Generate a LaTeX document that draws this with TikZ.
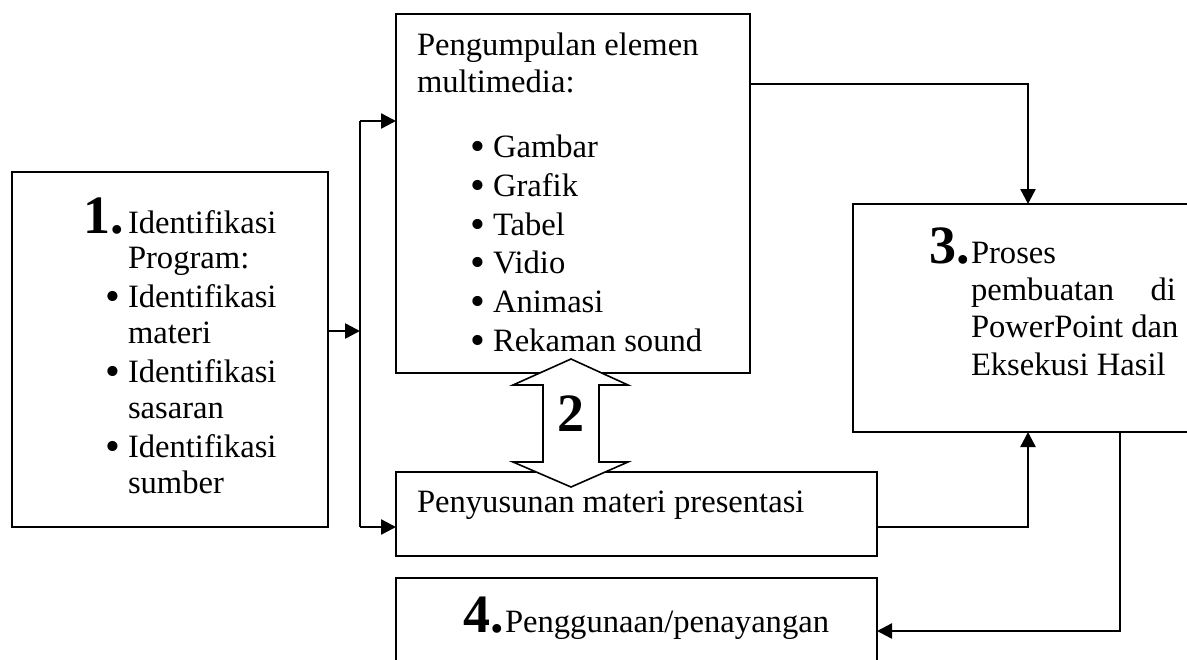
\documentclass[tikz,border=0pt]{standalone}
\usepackage{fontspec}
\usepackage{graphicx}
\setmainfont{Liberation Serif}
\usetikzlibrary{arrows.meta}
\newcommand{\bodyfont}{\fontsize{16.3pt}{18.75pt}\selectfont}
\newcommand{\numfont}{\fontsize{27pt}{27pt}\selectfont\bfseries}
\newcommand{\bul}{\llap{\raisebox{-1.6pt}{\scalebox{1.3}{\textbullet}}\hspace{4pt}}}
\begin{document}
\begin{tikzpicture}[x=0.5pt,y=-0.5pt,
  box/.style={draw, line width=1pt, inner sep=0pt, outer sep=0pt, anchor=north west},
  txt/.style={inner sep=0pt, outer sep=0pt, anchor=base west, font=\bodyfont},
  num/.style={inner sep=0pt, outer sep=0pt, anchor=base east, font=\numfont},
  conn/.style={line width=1.25pt},
  arr/.style={conn, -{Triangle[length=7.5pt,width=7.5pt]}},
  dbl/.style={draw, line width=0.8pt, fill=white, line join=miter}]
\useasboundingbox (0,0) rectangle (1187,659);

% boxes
\node[box, minimum width=158pt, minimum height=177.5pt] (b1) at (12,172) {};
\node[box, minimum width=177pt, minimum height=179.5pt] (bA) at (396,14) {};
\node[box, minimum width=240.5pt, minimum height=42pt] (bB) at (396,472) {};
\node[box, minimum width=240.5pt, minimum height=50pt] (b4) at (396,578) {};
\node[box, minimum width=180pt, minimum height=114pt] (b3) at (853,204) {};

% box 1 text
\node[num] (n1) at (124,233) {1.};
\node[txt] (t1a) at (128,233) {Identifikasi};
\node[txt] (t1b) at (128,268) {Program:};
\node[txt] (t1c) at (128,307) {\bul Identifikasi};
\node[txt] (t1d) at (128,343) {materi};
\node[txt] (t1e) at (128,382) {\bul Identifikasi};
\node[txt] (t1f) at (128,418) {sasaran};
\node[txt] (t1g) at (128,457) {\bul Identifikasi};
\node[txt] (t1h) at (128,493) {sumber};

% box A text
\node[txt] (tAa) at (417,55) {Pengumpulan elemen};
\node[txt] (tAb) at (417,92) {multimedia:};
\node[txt] (tAc) at (493,157) {\bul Gambar};
\node[txt] (tAd) at (493,196) {\bul Grafik};
\node[txt] (tAe) at (493,235) {\bul Tabel};
\node[txt] (tAf) at (493,273) {\bul Vidio};
\node[txt] (tAg) at (493,312) {\bul Animasi};
\node[txt] (tAh) at (493,351) {\bul Rekaman sound};

% box 3 text
\node[num] (n3) at (970,263) {3.};
\node[txt] (t3a) at (971,263) {Proses};
\node[txt] (t3b) at (971,300) {pembuatan};
\node[txt, anchor=base east] (t3c) at (1176,300) {di};
\node[txt] (t3d) at (971,337) {PowerPoint dan};
\node[txt] (t3e) at (971,375) {Eksekusi Hasil};

% box B text
\node[txt] (tB) at (417,512) {Penyusunan materi presentasi};

% box 4 text
\node[num] (n4) at (504,632) {4.};
\node[txt] (t4) at (505,632) {Penggunaan/penayangan};

% double arrow 2
\draw[dbl] (571,359) -- (628,385) -- (599,385) -- (599,462) -- (628,462)
  -- (571,487) -- (513,462) -- (543,462) -- (543,385) -- (513,385) -- cycle;
\node[inner sep=0pt, anchor=base, font=\numfont] (two) at (571,431) {2};

% connectors
\coordinate (j) at (360,331);
\coordinate (jt) at (360,121);
\coordinate (jb) at (360,527);
\draw[arr] (b1.east |- j) -- (j);
\draw[conn] (jt) -- (jb);
\draw[arr] (jt) -- (jt -| bA.west);
\draw[arr] (jb) -- (jb -| bB.west);

\coordinate (c1) at (1028,84);
\draw[arr] (bA.east |- c1) -- (c1) -- (c1 |- b3.north);
\coordinate (c2) at (1028,527);
\draw[arr] (bB.east |- c2) -- (c2) -- (c2 |- b3.south);
\coordinate (c3) at (1120,631);
\draw[arr] (b3.south -| c3) -- (c3) -- (c3 -| b4.east);
\end{tikzpicture}
\end{document}
